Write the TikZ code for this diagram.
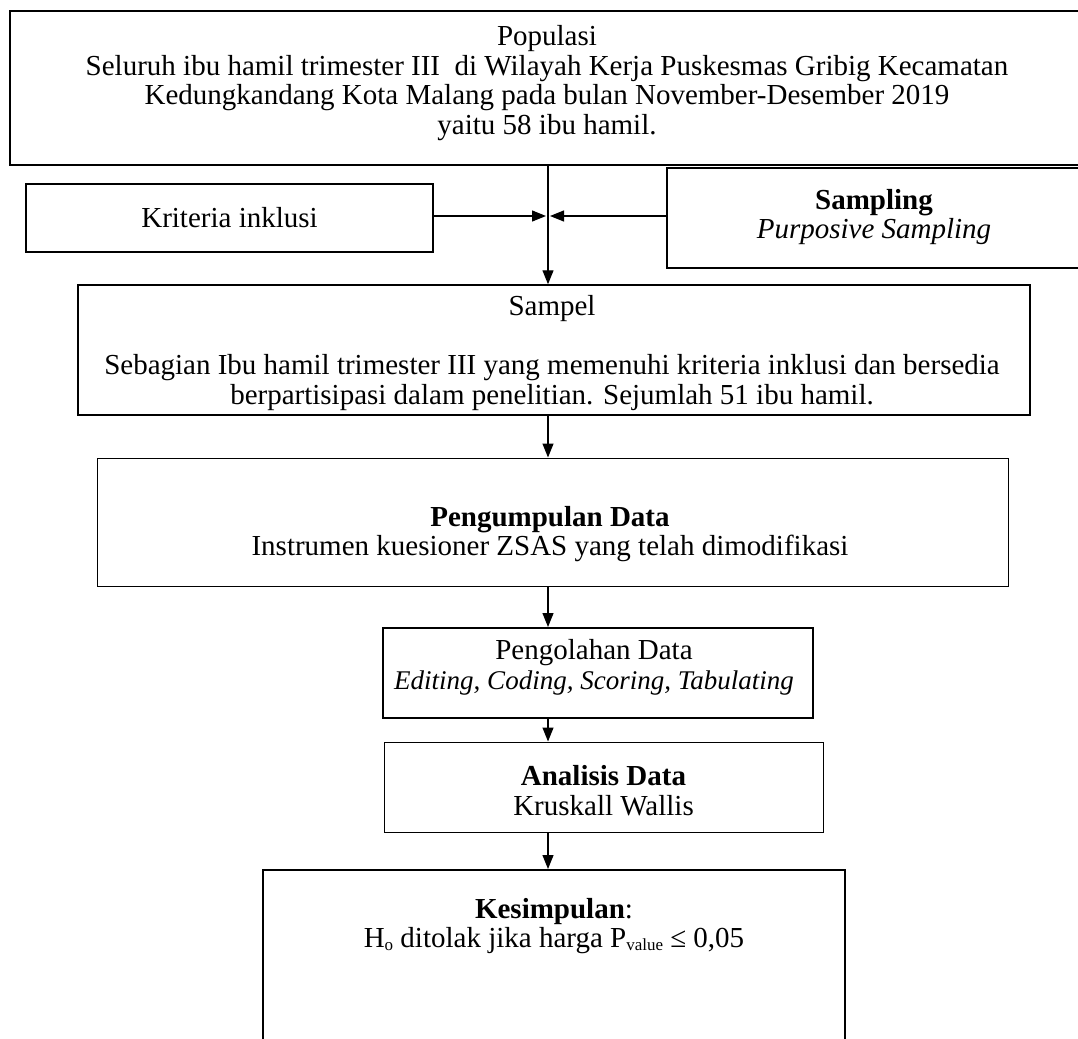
\documentclass[tikz,border=0pt]{standalone}
\usepackage{fontspec}
\setmainfont{Liberation Serif}
\usetikzlibrary{arrows.meta,calc}
\begin{document}
\begin{tikzpicture}[x=1pt,y=1pt,
  box/.style={draw,rectangle,inner sep=0pt,anchor=center},
  txt/.style={align=center,inner sep=0pt,font=\fontsize{29}{29.5}\selectfont},
  arr/.style={line width=1.2pt,-{Triangle[length=14pt,width=11pt]}},
  every node/.style={font=\fontsize{29}{29.5}\selectfont}]
\useasboundingbox (0,0) rectangle (1078,-1038);
\clip (0,0) rectangle (1078,-1038);
% boxes
\node[box,line width=2.4pt,minimum width=1080,minimum height=154] (pop) at (550,-88) {};
\node[txt] (popt) at (547,-83) {Populasi\\Seluruh ibu hamil trimester III\ \ di Wilayah Kerja Puskesmas Gribig Kecamatan\\Kedungkandang Kota Malang pada bulan November-Desember 2019\\yaitu 58 ibu hamil.};
\node[box,line width=2pt,minimum width=407,minimum height=68] (krit) at (229.5,-218) {};
\node[txt] (kritt) at (229.5,-218) {Kriteria inklusi};
\node[box,line width=1.8pt,minimum width=423,minimum height=100] (samp) at (878.5,-218) {};
\node[txt] (sampt) at (874,-217) {\textbf{Sampling}\\\textit{Purposive Sampling}};
\node[box,line width=1.5pt,minimum width=952,minimum height=130] (sampel) at (554,-350) {};
\node[txt] (sampelt) at (552,-353) {Sampel\\[29.5pt]Sebagian Ibu hamil trimester III yang memenuhi kriteria inklusi dan bersedia\\berpartisipasi dalam penelitian. Sejumlah 51 ibu hamil.};
\node[box,line width=1pt,minimum width=911,minimum height=128] (kumpul) at (552.5,-522) {};
\node[txt] (kumpult) at (550,-534) {\textbf{Pengumpulan Data}\\Instrumen kuesioner ZSAS yang telah dimodifikasi};
\node[box,line width=2pt,minimum width=430,minimum height=90] (olah) at (598,-673) {};
\node[txt] (olaht) at (594,-667.5) {Pengolahan Data\\{\fontsize{27}{29.5}\selectfont\itshape Editing, Coding, Scoring, Tabulating}};
\node[box,line width=1pt,minimum width=439,minimum height=90] (anal) at (603.5,-787) {};
\node[txt] (analt) at (603.5,-790.5) {\textbf{Analisis Data}\\Kruskall Wallis};
\node[box,line width=2pt,minimum width=582,minimum height=175] (simp) at (554,-957.5) {};
\node[txt] (simpt) at (554,-926) {\textbf{Kesimpulan}:\\H\raisebox{-3pt}{\fontsize{17}{17}\selectfont o} ditolak jika harga P\raisebox{-3pt}{\fontsize{17}{17}\selectfont value} ≤ 0,05};
% connectors
\coordinate (m) at (548,-216);
\coordinate (mL) at (546,-216);
\coordinate (mR) at (550,-216);
\draw[arr] (pop.south -| m) -- (sampel.north -| m);
\draw[arr] (krit.east |- m) -- (mL);
\draw[arr] (samp.west |- m) -- (mR);
\draw[arr] (sampel.south -| m) -- (kumpul.north -| m);
\draw[arr] (kumpul.south -| m) -- (olah.north -| m);
\draw[arr] (olah.south -| m) -- (anal.north -| m);
\draw[arr] (anal.south -| m) -- (simp.north -| m);
\end{tikzpicture}
\end{document}
